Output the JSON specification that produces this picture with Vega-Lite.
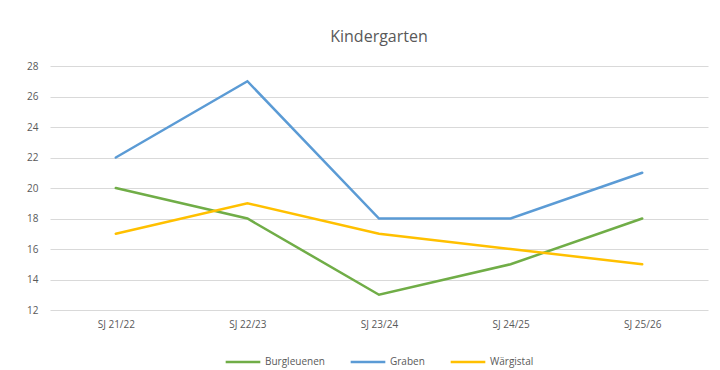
{
  "$schema": "https://vega.github.io/schema/vega-lite/v6.json",
  "autosize": "none",
  "width": 658,
  "height": 244,
  "padding": {"left": 50, "top": 66, "right": 12, "bottom": 60},
  "background": "white",
  "title": {"text": "Kindergarten", "fontSize": 16, "font": "Open Sans", "fontWeight": "normal", "color": "#595959", "offset": 16, "anchor": "middle"},
  "config": {"view": {"stroke": null}, "font": "Open Sans", "legend": {"layout": {"bottom": {"anchor": "middle"}}}},
  "data": {"values": [
    {"sj": "SJ 21/22", "ort": "Burgleuenen", "v": 20},
    {"sj": "SJ 22/23", "ort": "Burgleuenen", "v": 18},
    {"sj": "SJ 23/24", "ort": "Burgleuenen", "v": 13},
    {"sj": "SJ 24/25", "ort": "Burgleuenen", "v": 15},
    {"sj": "SJ 25/26", "ort": "Burgleuenen", "v": 18},
    {"sj": "SJ 21/22", "ort": "Graben", "v": 22},
    {"sj": "SJ 22/23", "ort": "Graben", "v": 27},
    {"sj": "SJ 23/24", "ort": "Graben", "v": 18},
    {"sj": "SJ 24/25", "ort": "Graben", "v": 18},
    {"sj": "SJ 25/26", "ort": "Graben", "v": 21},
    {"sj": "SJ 21/22", "ort": "Wärgistal", "v": 17},
    {"sj": "SJ 22/23", "ort": "Wärgistal", "v": 19},
    {"sj": "SJ 23/24", "ort": "Wärgistal", "v": 17},
    {"sj": "SJ 24/25", "ort": "Wärgistal", "v": 16},
    {"sj": "SJ 25/26", "ort": "Wärgistal", "v": 15}
  ]},
  "mark": {"type": "line", "strokeWidth": 2.5, "strokeCap": "round", "strokeJoin": "miter"},
  "encoding": {
    "x": {"field": "sj", "type": "ordinal", "scale": {"type": "point", "padding": 0.5},
      "axis": {"title": null, "labelAngle": 0, "domain": false, "ticks": false, "grid": false, "labelColor": "#595959", "labelFontSize": 10, "labelPadding": 9}},
    "y": {"field": "v", "type": "quantitative", "scale": {"domain": [12, 28], "nice": false, "zero": false},
      "axis": {"title": null, "values": [12, 14, 16, 18, 20, 22, 24, 26, 28], "domain": false, "ticks": false, "gridColor": "#D9D9D9", "gridWidth": 1, "labelColor": "#595959", "labelFontSize": 10, "labelPadding": 12}},
    "color": {"field": "ort", "type": "nominal",
      "scale": {"domain": ["Burgleuenen", "Graben", "Wärgistal"], "range": ["#70AD47", "#5B9BD5", "#FFC000"]},
      "legend": {"orient": "bottom", "title": null, "direction": "horizontal", "symbolType": "stroke", "symbolSize": 1200, "symbolStrokeWidth": 2.5, "labelColor": "#595959", "labelFontSize": 10, "labelOffset": 3, "columnPadding": 20, "offset": 14}}
  }
}
